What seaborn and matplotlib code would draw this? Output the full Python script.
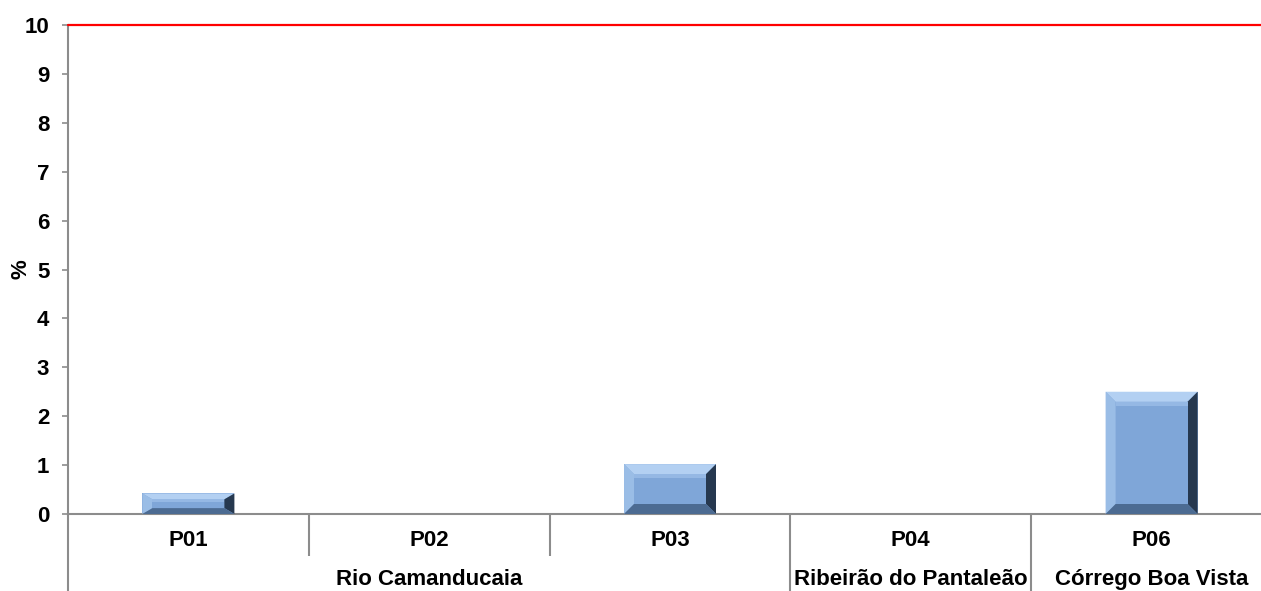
import matplotlib
matplotlib.use("Agg")
import matplotlib.pyplot as plt
from matplotlib.patches import Polygon
import seaborn as sns
import pandas as pd

# Data
points = ["P01", "P02", "P03", "P04", "P06"]
values = [0.42, 0.0, 1.02, 0.0, 2.5]
groups = ["Rio Camanducaia", "Ribeirão do Pantaleão", "Córrego Boa Vista"]
group_members = [["P01", "P02", "P03"], ["P04"], ["P06"]]
limit_value = 10
yticks = list(range(0, 11))

sns.set_theme(style="white")
plt.rcParams["font.family"] = ["Liberation Sans", "DejaVu Sans"]
plt.rcParams["font.weight"] = "bold"
plt.rcParams["text.color"] = "black"
plt.rcParams["ytick.labelcolor"] = "black"

FS = 16

df = pd.DataFrame({"ponto": points, "valor": values})

fig = plt.figure(figsize=(12.61, 5.91), dpi=100)
# plot area runs slightly past the right edge of the figure
ax = fig.add_axes([68 / 1261, 77 / 591, (1272 - 68) / 1261, 489 / 591])

sns.barplot(data=df, x="ponto", y="valor", order=points, color="#7FA6D8",
            width=0.382, saturation=1, ax=ax, linewidth=0)

ax.set_xlim(-0.5, len(points) - 0.5)
ax.set_ylim(0, 10)
ax.set_yticks(yticks)
ax.set_yticklabels([str(t) for t in yticks], fontsize=FS, fontweight="bold",
                   color="black")
ax.tick_params(axis="y", direction="out", length=4.5, width=1.2, color="#8c8c8c",
               left=True, pad=9)
ax.tick_params(axis="x", bottom=False, labelbottom=False)
ax.set_xlabel("")
ax.set_ylabel("")
fig.text(21 / 1261, 1 - 269 / 591, "%", rotation=90, ha="center", va="center",
         fontsize=FS, fontweight="bold", color="black")

for side in ["top", "right"]:
    ax.spines[side].set_visible(False)
for side in ["left", "bottom"]:
    ax.spines[side].set_color("#8c8c8c")
    ax.spines[side].set_linewidth(1.5)

# Limit line
ax.axhline(limit_value, color="#ff0000", lw=1.6, zorder=5, clip_on=False)

# Bevelled bar faces
fig.canvas.draw()
to_disp = ax.transData
to_data = ax.transData.inverted()
for bar in ax.patches:
    h = bar.get_height()
    if h <= 0:
        continue
    x0, y0 = bar.get_x(), bar.get_y()
    x1, y1 = x0 + bar.get_width(), y0 + h
    (px0, py0), (px1, py1) = to_disp.transform([(x0, y0), (x1, y1)])
    b = min(10.0, (py1 - py0) / 3.5)
    bx = min(10.0, (px1 - px0) / 4)
    corners = to_data.transform([(px0, py0), (px1, py0), (px1, py1), (px0, py1),
                                 (px0 + bx, py0 + b), (px1 - bx, py0 + b),
                                 (px1 - bx, py1 - b), (px0 + bx, py1 - b)])
    o0, o1, o2, o3, i0, i1, i2, i3 = corners
    faces = [
        ([o3, o2, i2, i3], "#B3D0F2"),   # top
        ([o0, o3, i3, i0], "#9ABDE6"),   # left
        ([o1, o2, i2, i1], "#26384F"),   # right
        ([o0, o1, i1, i0], "#4C6B92"),   # bottom
        ([i0, i1, i2, i3], "#7FA6D8"),   # face
    ]
    for pts, col in faces:
        ax.add_patch(Polygon(pts, closed=True, facecolor=col, edgecolor="none",
                             zorder=3))
    # highlight strip near top
    hl = to_data.transform([(px0 + bx, py1 - b), (px1 - bx, py1 - b),
                            (px1 - bx, py1 - b - min(4, b * 0.5)),
                            (px0 + bx, py1 - b - min(4, b * 0.5))])
    ax.add_patch(Polygon(hl, closed=True, facecolor="#95B8E4", edgecolor="none",
                         zorder=3))

# Category labels below the axis
xform = ax.get_xaxis_transform()
for i, p in enumerate(points):
    ax.text(i, -0.055, p, transform=xform, ha="center", va="center",
            fontsize=FS, fontweight="bold", color="black", clip_on=False)

# Group labels
for name, members in zip(groups, group_members):
    idx = [points.index(m) for m in members]
    cx = (min(idx) + max(idx)) / 2
    ax.text(cx, -0.133, name, transform=xform, ha="center", va="center",
            fontsize=FS, fontweight="bold", color="black", clip_on=False)

# Separators between categories and groups
group_edges = {-0.5}
for members in group_members:
    idx = [points.index(m) for m in members]
    group_edges.add(max(idx) + 0.5)
for k in range(len(points) + 1):
    xs = k - 0.5
    if xs >= len(points) - 0.5:
        continue
    bottom = -0.16 if xs in group_edges else -0.085
    ax.plot([xs, xs], [0, bottom], transform=xform, color="#8c8c8c", lw=1.5,
            clip_on=False, solid_capstyle="butt")

fig.savefig("out.png", dpi=100)
